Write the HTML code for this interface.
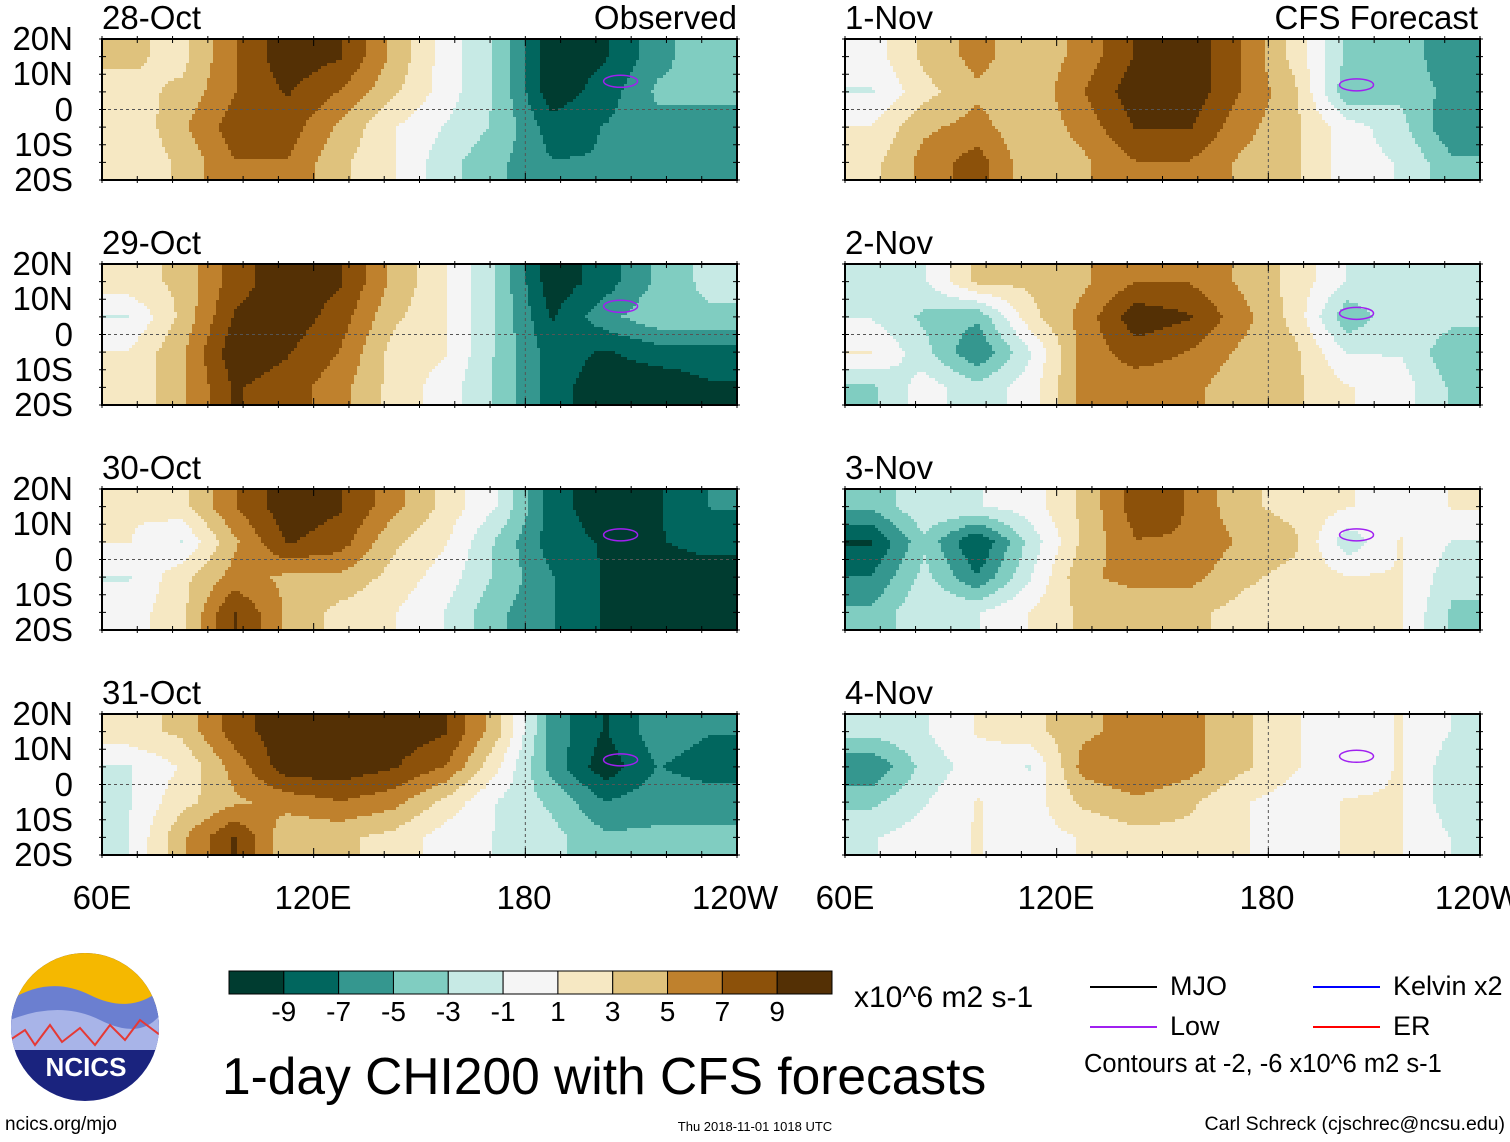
<!DOCTYPE html>
<html><head><meta charset="utf-8">
<style>
body{margin:0;background:#fff;font-family:"Liberation Sans",sans-serif;}
#root{position:relative;width:1510px;height:1142px;overflow:hidden;background:#fff;}
.t{position:absolute;white-space:nowrap;color:#000;line-height:1;}
</style></head><body>
<div id="root">
<svg id="svg" width="1510" height="1142" style="position:absolute;left:0;top:0"></svg>
</div>
<script>
// Color bins (BrBG reversed), boundaries -9..9
const levels = [-9,-7,-5,-3,-1,1,3,5,7,9];
const colors = ["#003c30","#01665e","#35978f","#80cdc1","#c7eae5","#f5f5f5","#f6e8c3","#dfc27d","#bf812d","#8c510a","#543005"];
const panelTitles = ["28-Oct","29-Oct","30-Oct","31-Oct","1-Nov","2-Nov","3-Nov","4-Nov"];
const yTicks = ["20N","10N","0","10S","20S"];
const xTicks = ["60E","120E","180","120W"];
// Gridded CHI200 anomalies: 12 lon bins (60E-120W, 15deg) x 4 lat rows (20N..20S)
const d28Oct = [[3,2,6,9,8,4,0,-3,-9,-8,-5,-3],[2,3,6,8,6,3,0,-3,-9,-7,-4,-4],[1,4,7,7,4,1,-1,-3,-7,-6,-5,-5],[1,3,6,6,3,1,-2,-4,-6,-6,-5,-5]];
const d29Oct = [[2,3,7,9,8,4,1,-3,-9,-7,-4,-2],[-1,3,8,9,7,3,1,-3,-8,-5,-3,-3],[1,4,9,8,6,2,1,-3,-7,-8,-7,-7],[1,4,8,7,5,2,0,-3,-7,-9,-9,-8]];
const d30Oct = [[1,2,6,9,8,5,2,-1,-7,-9,-8,-6],[1,-1,4,8,7,3,1,-3,-7,-8,-8,-7],[-1,2,5,4,4,2,0,-3,-6,-8,-9,-9],[0,2,8,4,2,1,-1,-4,-6,-8,-9,-9]];
const d31Oct = [[2,3,7,9,9,9,8,3,-5,-8,-5,-6],[-1,1,5,9,9,8,6,1,-5,-9,-6,-7],[-1,2,4,5,6,5,2,-1,-3,-6,-5,-5],[-1,4,8,3,3,2,0,-1,-2,-4,-4,-4]];
const d1Nov = [[0,3,5,3,5,8,9,6,2,-3,-3,-6],[-1,2,4,3,6,9,9,6,3,-4,-3,-5],[1,4,5,3,5,8,8,5,3,0,-2,-6],[2,5,7,3,4,6,6,4,3,0,-1,-4]];
const d2Nov = [[-1,-1,3,3,4,6,6,4,2,-1,-1,-1],[-1,-3,-4,2,5,9,8,5,2,-4,-1,-2],[1,-2,-6,-1,5,7,6,4,3,-1,-1,-4],[-3,0,-2,0,5,5,5,3,3,1,0,-3]];
const d3Nov = [[-4,-1,-1,0,3,7,6,3,2,1,0,1],[-8,-3,-8,-2,3,6,6,4,3,-2,1,-1],[-6,-2,-6,-1,4,5,5,3,2,1,1,-2],[-4,-1,-1,1,3,3,3,2,2,1,1,-3]];
const d4Nov = [[-2,-1,1,2,4,5,5,3,1,0,1,-1],[-6,-2,0,-1,5,6,5,3,1,0,1,-2],[-3,-1,1,0,3,4,3,1,0,1,1,-2],[-1,0,1,0,1,2,2,1,0,1,1,-1]];
const panelData = [d28Oct,d29Oct,d30Oct,d31Oct,d1Nov,d2Nov,d3Nov,d4Nov];
const lowLon = [207,207,207,207,205,205,205,205];
const lowLat = [8,8,7,7,7,6,7,8];

const NS="http://www.w3.org/2000/svg";
const svg=document.getElementById('svg');
const root=document.getElementById('root');
function el(tag,attrs,parent){const e=document.createElementNS(NS,tag);for(const k in attrs)e.setAttribute(k,attrs[k]);(parent||svg).appendChild(e);return e;}
function colorFor(v){let i=0;while(i<levels.length&&v>levels[i])i++;return colors[i];}
function txt(s,x,y,size,align,name){const d=document.createElement('div');d.className='t';d.textContent=s;d.style.fontSize=size+'px';d.style.top=y+'px';
 if(align==='r'){d.style.right=(1510-x)+'px';}else if(align==='c'){d.style.left=x+'px';d.style.transform='translateX(-50%)';}else d.style.left=x+'px';
 
 
 root.appendChild(d);return d;}

const PW=635, PH=141, colX=[102,845], rowY=[39,264,489,714];
function sample(g,fx,fy){
 let cx=fx-0.5, cy=fy-0.5; cx=Math.max(0,Math.min(11,cx)); cy=Math.max(0,Math.min(3,cy));
 const x0=Math.floor(cx),y0=Math.floor(cy),x1=Math.min(11,x0+1),y1=Math.min(3,y0+1),tx=cx-x0,ty=cy-y0;
 return 1.15*(g[y0][x0]*(1-tx)*(1-ty)+g[y0][x1]*tx*(1-ty)+g[y1][x0]*(1-tx)*ty+g[y1][x1]*tx*ty);}
const lonX=(lon,x0)=>x0+(lon-60)/180*PW;
const latY=(lat,y0)=>y0+(20-lat)/40*PH;

panelData.forEach((g,p)=>{
 const c=p<4?0:1, r=p%4, x0=colX[c], y0=rowY[r];
 const grp=el('g',{});
 
 
 const step=3;
 for(let yy=0;yy<PH;yy+=step){
  let runStart=0, runCol=null;
  const flush=(end)=>{if(runCol){const cell=el('rect',{x:x0+runStart,y:y0+yy,width:end-runStart+0.5,height:Math.min(step,PH-yy)+0.5,fill:runCol},grp);
     
     }};
  for(let xx=0;xx<PW;xx+=step){
   const col = colorFor(sample(g,(xx+step/2)/PW*12,(yy+step/2)/PH*4));
   if(col!==runCol){flush(xx);runStart=xx;runCol=col;}
  }
  flush(PW);
 }
 el('line',{x1:x0,x2:x0+PW,y1:latY(0,y0),y2:latY(0,y0),stroke:'#555','stroke-dasharray':'3,3','stroke-width':1},grp);
 el('line',{x1:lonX(180,x0),x2:lonX(180,x0),y1:y0,y2:y0+PH,stroke:'#555','stroke-dasharray':'3,3','stroke-width':1},grp);
 const low=el('ellipse',{cx:lonX(lowLon[p],x0),cy:latY(lowLat[p],y0),rx:17,ry:6,fill:'none',stroke:'#a020f0','stroke-width':1.5},grp);
 
 
 el('rect',{x:x0,y:y0,width:PW,height:PH,fill:'none',stroke:'#000','stroke-width':2},grp);
 for(let lon=60;lon<=240;lon+=10){const X=lonX(lon,x0),L=(lon%60===0)?7:4;
  el('line',{x1:X,x2:X,y1:y0,y2:y0+L,stroke:'#000'},grp);el('line',{x1:X,x2:X,y1:y0+PH,y2:y0+PH-L,stroke:'#000'},grp);
  el('line',{x1:X,x2:X,y1:y0-3,y2:y0,stroke:'#000'},grp);el('line',{x1:X,x2:X,y1:y0+PH,y2:y0+PH+3,stroke:'#000'},grp);}
 for(let lat=-20;lat<=20;lat+=5){const Y=latY(lat,y0);
  el('line',{x1:x0-3,x2:x0+4,y1:Y,y2:Y,stroke:'#000'},grp);el('line',{x1:x0+PW-4,x2:x0+PW+3,y1:Y,y2:Y,stroke:'#000'},grp);}
 txt(panelTitles[p],x0,y0-38,33,'l','panel-title');
 if(c===0) yTicks.forEach((t,i)=>txt(t,73,y0-17+i*35.25,33,'r','y-tick-label'));
});
txt('Observed',737,1,33,'r','observed-label');
txt('CFS Forecast',1478,1,33,'r','forecast-label');
xTicks.forEach((t,i)=>{txt(t,102+i*211,881,33,'c','x-tick-label');txt(t,845+i*211,881,33,'c','x-tick-label');});

const cbX=229,cbW=603,cbY=971,cbH=23,bw=cbW/11;
colors.forEach((c,i)=>{const r=el('rect',{x:cbX+i*bw,y:cbY,width:bw,height:cbH,fill:c,stroke:'#000','stroke-width':1});
 
 });
levels.forEach((l,i)=>txt(String(l),cbX+(i+1)*bw,998,28,'c','colorbar-label'));
txt('x10^6 m2 s-1',854,983,30,'l','colorbar-units');
txt('1-day CHI200 with CFS forecasts',222,1051,51.5,'l','chart-title');

const leg=[['MJO','#000',1090,987],['Kelvin x2','#0000ff',1313,987],['Low','#a020f0',1090,1027],['ER','#ff0000',1313,1027]];
leg.forEach(([n,c,x,y])=>{const l=el('line',{x1:x,x2:x+67,y1:y,y2:y,stroke:c,'stroke-width':2});
 
 
 txt(n,x+80,y-14,27,'l','legend-entry');});
txt('Contours at -2, -6 x10^6 m2 s-1',1084,1052,25.5,'l','contour-note');
txt('ncics.org/mjo',5,1115,19,'l','footer-url');
txt('Thu 2018-11-01 1018 UTC',755,1120,13,'c','timestamp');
txt('Carl Schreck (cjschrec@ncsu.edu)',1505,1115,19.5,'r','author-credit');

const lg=el('g',{});


const defs=el('defs',{},lg);
const cp=el('clipPath',{id:'lc'},defs);el('circle',{cx:85,cy:1027,r:74},cp);
const cg=el('g',{'clip-path':'url(#lc)'},lg);
el('rect',{x:10,y:950,width:150,height:160,fill:'#1a237e'},cg);
el('rect',{x:10,y:950,width:150,height:55,fill:'#f5b800'},cg);
el('path',{d:'M10 1000 Q50 975 90 995 T160 990 L160 1040 L10 1040Z',fill:'#6b7fd0'},cg);
el('path',{d:'M10 1020 Q60 1000 100 1020 T160 1015 L160 1050 L10 1050Z',fill:'#a8b4e8'},cg);
el('path',{d:'M10 1040 L25 1030 L35 1045 L50 1025 L62 1042 L80 1028 L95 1045 L110 1025 L125 1040 L140 1020 L160 1035',fill:'none',stroke:'#e53935','stroke-width':2},cg);
const lt=el('text',{x:86,y:1076,'text-anchor':'middle','font-family':'Liberation Sans, sans-serif','font-weight':'bold','font-size':26,fill:'#fff'},lg);lt.textContent='NCICS';
</script>
</body></html>
